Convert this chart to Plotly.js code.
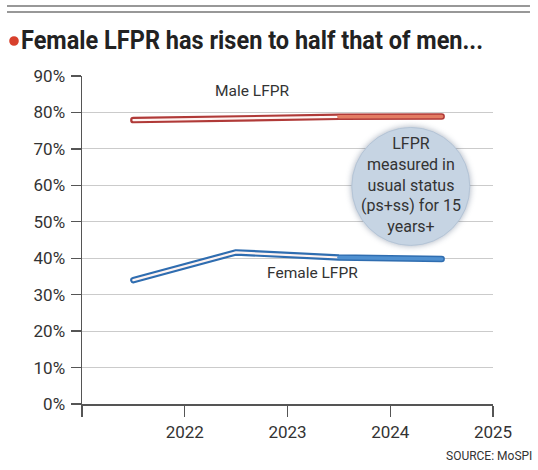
<!DOCTYPE html>
<html>
<head>
<meta charset="utf-8">
<script src="https://cdn.plot.ly/plotly-3.0.1.min.js"></script>
<style>
  html, body { margin:0; padding:0; background:#fff; }
  #chart { width:538px; height:470px; }
  .scatterlayer path.js-line { stroke-linecap: round; stroke-linejoin: round; }
  .layer-above .shapelayer path.circ { filter: drop-shadow(0 0 3px rgba(60,80,110,0.45)); }
</style>
</head>
<body>
<div id="chart"></div>
<script>
// ---- data ----
const years = [2021.5, 2022.5, 2023.5, 2024.5];
const maleLFPR = [77.9, 78.4, 78.8, 78.9];
const femaleLFPR = [34.0, 41.6, 40.2, 39.8];
const xTickVals = [2021, 2022, 2023, 2024, 2025];
const xTickText = ['', '2022', '2023', '2024', '2025'];
const yTickVals = [0, 10, 20, 30, 40, 50, 60, 70, 80, 90];
const yTickText = ['0%', '10%', '20%', '30%', '40%', '50%', '60%', '70%', '80%', '90%'];
const seriesNames = ['Male LFPR', 'Female LFPR'];
const noteText = 'LFPR<br>measured in<br>usual status<br>(ps+ss) for 15<br>years+';
const titleText = 'Female LFPR has risen to half that of men...';
const sourceText = 'SOURCE: MoSPI';

const maleDark = '#b03a38', maleLight = '#e37c63';
const femDark = '#2f6db0', femLight = '#4f90d0';

function seriesTraces(vals, dark, light) {
  return [
    {x: years, y: vals, mode: 'lines', line: {color: dark, width: 6.5}, hoverinfo: 'skip'},
    {x: years.slice(0, 3), y: vals.slice(0, 3), mode: 'lines', line: {color: '#fff4f2', width: 2.2}, hoverinfo: 'skip'},
    {x: years.slice(2), y: vals.slice(2), mode: 'lines', line: {color: light, width: 3.6}, hoverinfo: 'skip'}
  ];
}

const data = [
  ...seriesTraces(maleLFPR, maleDark, maleLight),
  ...seriesTraces(femaleLFPR, femDark, femLight)
];

const axisFont = {family: 'Roboto', size: 17, color: '#333'};

const layout = {
  width: 538, height: 470,
  margin: {l: 82, r: 45, t: 76, b: 66},
  paper_bgcolor: '#fff', plot_bgcolor: '#fff',
  showlegend: false,
  title: {
    text: titleText,
    font: {family: 'Roboto', size: 26, color: '#222', weight: 'bold'},
    xref: 'container', x: 21/538, xanchor: 'left',
    yref: 'container', y: 1 - 40/470, yanchor: 'middle'
  },
  xaxis: {
    range: [2021, 2025],
    tickmode: 'array', tickvals: xTickVals, ticktext: xTickText,
    ticks: 'outside', ticklen: 11, tickcolor: '#555', tickwidth: 1.3,
    showline: true, linecolor: '#555', linewidth: 1.5,
    showgrid: false, zeroline: false,
    tickfont: axisFont, ticklabelstandoff: 1
  },
  yaxis: {
    range: [0, 90],
    tickmode: 'array', tickvals: yTickVals, ticktext: yTickText,
    ticks: 'outside', ticklen: 10, tickcolor: '#555', tickwidth: 1.3,
    showline: true, linecolor: '#555', linewidth: 1.5,
    showgrid: true, gridcolor: '#cbcbcb', gridwidth: 1,
    zeroline: false,
    tickfont: axisFont, ticklabelstandoff: 2
  },
  shapes: [
    {type: 'line', xref: 'paper', yref: 'paper', x0: -0.1825, x1: 1.09, y0: 398/328, y1: 398/328,
     line: {color: '#333', width: 1.2}},
    {type: 'line', xref: 'paper', yref: 'paper', x0: -0.1825, x1: 1.09, y0: 392/328, y1: 392/328,
     line: {color: '#333', width: 1.2}},
    {type: 'circle', layer: 'above', xref: 'x', yref: 'y',
     xsizemode: 'pixel', ysizemode: 'pixel', xanchor: 2024.2, yanchor: 59.7,
     x0: -59, x1: 59, y0: -59, y1: 59,
     fillcolor: '#c6d4e3', line: {color: '#b4c4d6', width: 1}},
    // red bullet before the headline
    {type: 'circle', layer: 'above', xref: 'paper', yref: 'paper',
     xsizemode: 'pixel', ysizemode: 'pixel', xanchor: (14-82)/411, yanchor: (404-41)/328,
     x0: -4.8, x1: 4.8, y0: -4.8, y1: 4.8,
     fillcolor: '#d8402c', line: {width: 0}}
  ],
  annotations: [
    {text: seriesNames[0], x: 2022.655, y: 85.8, xref: 'x', yref: 'y', showarrow: false,
     font: {family: 'Roboto', size: 15.5, color: '#333'}},
    {text: seriesNames[1], x: 2023.24, y: 35.9, xref: 'x', yref: 'y', showarrow: false,
     font: {family: 'Roboto', size: 15.5, color: '#333'}},
    {text: noteText, x: 2024.2, y: 59.96, xref: 'x', yref: 'y', showarrow: false,
     font: {family: 'Roboto', size: 16, color: '#333'}},
    {text: sourceText, xref: 'paper', yref: 'paper', x: (534-82)/411, xanchor: 'right',
     y: (404-456)/328, yanchor: 'middle', showarrow: false,
     font: {family: 'Roboto', size: 12, color: '#333'}}
  ]
};

function squeeze(el, len) {
  if (!el) return;
  el.setAttribute('textLength', len);
  el.setAttribute('lengthAdjust', 'spacingAndGlyphs');
}

Plotly.newPlot('chart', data, layout, {staticPlot: true, displayModeBar: false}).then(function(){
  document.querySelectorAll('.layer-above .shapelayer path').forEach(function(p, i){
    if (i === 2) p.classList.add('circ');
  });
  // condensed headline, as in the reference
  const t = document.querySelector('.gtitle');
  if (t) { squeeze(t, 462); t.setAttribute('x', 21); t.setAttribute('text-anchor', 'start'); }
});
</script>
</body>
</html>
